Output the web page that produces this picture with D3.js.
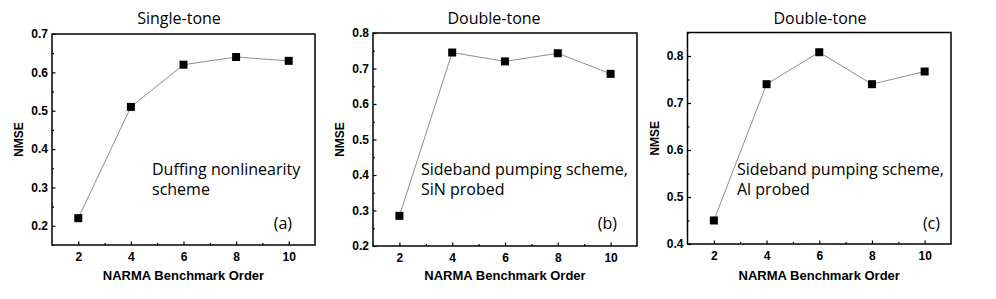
<!DOCTYPE html>
<html>
<head>
<meta charset="utf-8">
<script src="https://cdn.jsdelivr.net/npm/d3@7"></script>
<style>
  body { margin: 0; background: #fff; }
  svg { display: block; }
  .domain { display: none; }
</style>
</head>
<body>
<svg id="chart" width="996" height="299"></svg>
<script>
// Data
const orders = [2, 4, 6, 8, 10];
const nmseSingleTone = [0.22, 0.51, 0.62, 0.64, 0.63];
const nmseDoubleToneSiN = [0.285, 0.745, 0.72, 0.743, 0.685];
const nmseDoubleToneAl = [0.45, 0.74, 0.808, 0.74, 0.767];

const titles = ["Single-tone", "Double-tone", "Double-tone"];
const notes = [
  ["Duffing nonlinearity", "scheme"],
  ["Sideband pumping scheme,", "SiN probed"],
  ["Sideband pumping scheme,", "Al probed"]
];
const panelLabels = ["(a)", "(b)", "(c)"];
const yDomains = [[0.15, 0.7], [0.2, 0.8], [0.4, 0.85]];
const yTicks = [
  [0.2, 0.3, 0.4, 0.5, 0.6, 0.7],
  [0.2, 0.3, 0.4, 0.5, 0.6, 0.7, 0.8],
  [0.4, 0.5, 0.6, 0.7, 0.8]
];
const series = [nmseSingleTone, nmseDoubleToneSiN, nmseDoubleToneAl];

// Frame boxes for each panel (left, top, right, bottom)
const frames = [
  { x0: 52, y0: 34, x1: 315, y1: 245 },
  { x0: 373, y0: 33, x1: 637, y1: 246 },
  { x0: 687.5, y0: 32.5, x1: 951, y1: 244 }
];
const titleX = [179, 494, 820];
const noteX = [152, 421, 737];
const labelX = [292, 617, 940];

const tickFont = "'Liberation Sans', Arial, sans-serif";
const textFont = "'Open Sans', sans-serif";

const svg = d3.select("#chart");

frames.forEach((f, i) => {
  const g = svg.append("g");

  const x = d3.scaleLinear().domain([1, 11]).range([f.x0, f.x1]);
  const y = d3.scaleLinear().domain(yDomains[i]).range([f.y1, f.y0]);

  // minor ticks
  const yMinor = d3.range(yDomains[i][0], yDomains[i][1] + 1e-9, 0.05)
    .filter(v => !yTicks[i].some(t => Math.abs(t - v) < 1e-6));
  g.append("g")
    .attr("transform", `translate(${f.x0},0)`)
    .call(d3.axisLeft(y).tickValues(yMinor).tickSize(-2).tickFormat(""));
  g.append("g")
    .attr("transform", `translate(0,${f.y1})`)
    .call(d3.axisBottom(x).tickValues([3, 5, 7, 9]).tickSize(-2).tickFormat(""));

  // major ticks
  g.append("g")
    .attr("transform", `translate(${f.x0},0)`)
    .call(d3.axisLeft(y).tickValues(yTicks[i]).tickSize(-3.5).tickPadding(4).tickFormat(d3.format(".1f")));
  g.append("g")
    .attr("transform", `translate(0,${f.y1})`)
    .call(d3.axisBottom(x).tickValues(orders).tickSize(-3.5).tickPadding(7).tickFormat(d3.format("d")));

  g.selectAll(".tick line").attr("stroke", "#000").attr("stroke-width", 1.2);
  g.selectAll(".tick text")
    .attr("font-family", tickFont)
    .attr("font-weight", "bold")
    .attr("font-size", 12)
    .attr("fill", "#000");

  // frame
  g.append("rect")
    .attr("x", f.x0).attr("y", f.y0)
    .attr("width", f.x1 - f.x0).attr("height", f.y1 - f.y0)
    .attr("fill", "none").attr("stroke", "#000").attr("stroke-width", 1.5);

  // line + markers
  const pts = orders.map((o, j) => [o, series[i][j]]);
  g.append("path")
    .datum(pts)
    .attr("fill", "none")
    .attr("stroke", "#808080")
    .attr("stroke-width", 0.9)
    .attr("d", d3.line().x(d => x(d[0])).y(d => y(d[1])));

  g.selectAll("rect.pt")
    .data(pts)
    .join("rect")
    .attr("class", "pt")
    .attr("x", d => x(d[0]) - 4)
    .attr("y", d => y(d[1]) - 4)
    .attr("width", 8).attr("height", 8)
    .attr("fill", "#000");

  // title
  g.append("text")
    .attr("x", titleX[i]).attr("y", 24)
    .attr("text-anchor", "middle")
    .attr("font-family", textFont)
    .attr("font-size", 16)
    .text(titles[i]);

  // annotation
  notes[i].forEach((line, k) => {
    g.append("text")
      .attr("x", noteX[i]).attr("y", 175 + k * 20)
      .attr("font-family", textFont)
      .attr("font-size", 16)
      .text(line);
  });

  g.append("text")
    .attr("x", labelX[i]).attr("y", 229)
    .attr("text-anchor", "end")
    .attr("font-family", textFont)
    .attr("font-size", 16)
    .text(panelLabels[i]);

  // axis titles
  g.append("text")
    .attr("x", (f.x0 + f.x1) / 2).attr("y", 280)
    .attr("text-anchor", "middle")
    .attr("font-family", tickFont)
    .attr("font-weight", "bold")
    .attr("font-size", 13)
    .text("NARMA Benchmark Order");

  g.append("text")
    .attr("transform", `translate(${f.x0 - 29},${(f.y0 + f.y1) / 2}) rotate(-90)`)
    .attr("text-anchor", "middle")
    .attr("font-family", tickFont)
    .attr("font-weight", "bold")
    .attr("font-size", 12)
    .text("NMSE");
});
</script>
</body>
</html>
